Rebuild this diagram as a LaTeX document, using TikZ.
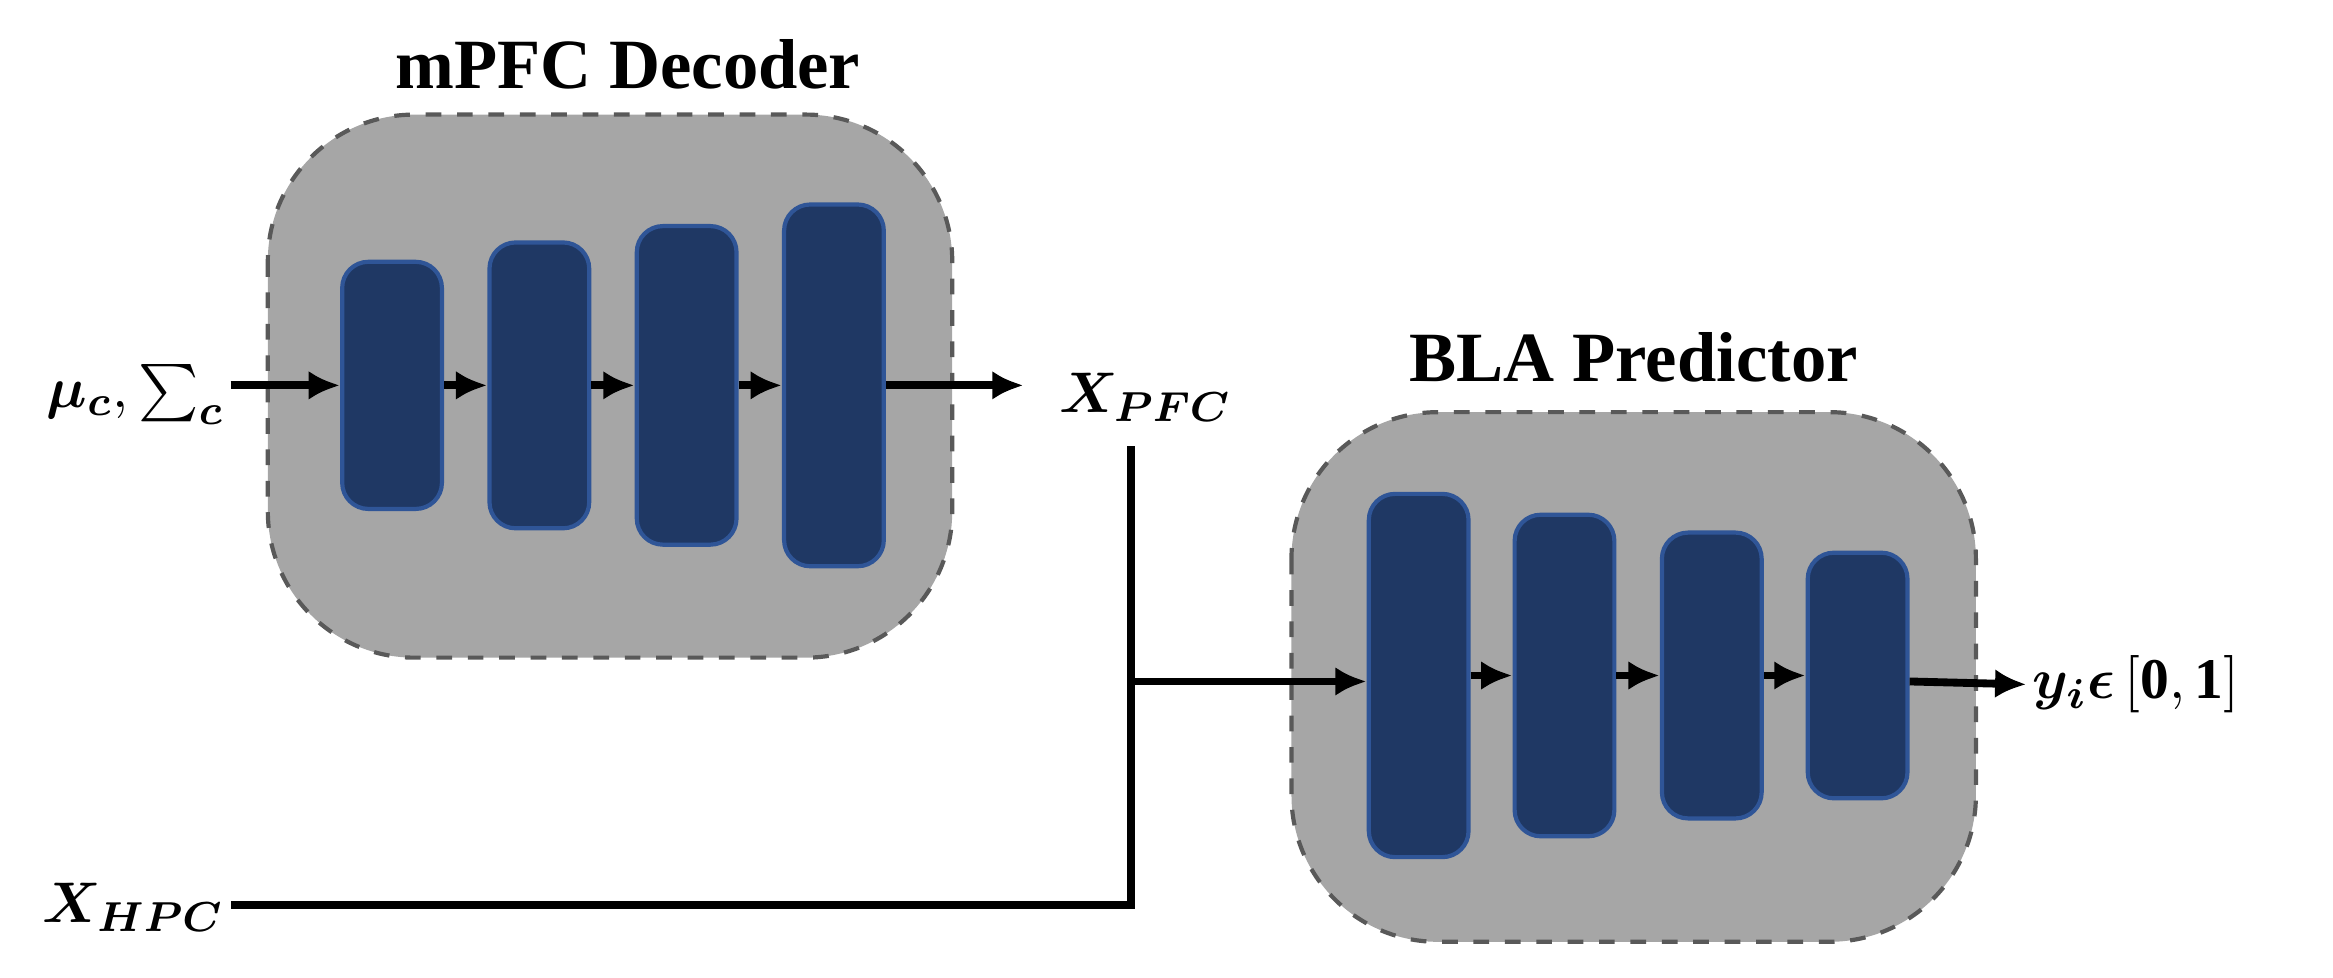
\documentclass[tikz,border=0pt]{standalone}
\usepackage{amsmath,bm}
\usepackage{fontspec}
\setmainfont{Liberation Serif}
\usetikzlibrary{arrows.meta}
\definecolor{boxgray}{HTML}{A6A6A6}
\definecolor{layerblue}{HTML}{1F3864}
\definecolor{layeredge}{HTML}{2F5597}
\tikzset{
  panel/.style={draw=gray!70!black, dashed, fill=boxgray, rounded corners=28pt, line width=0.8pt},
  layer/.style={draw=layeredge, fill=layerblue, rounded corners=5pt, minimum width=0.67cm, line width=0.8pt, inner sep=0pt},
  flow/.style={-{Latex[length=6pt,width=5.5pt]}, line width=1.5pt},
  title/.style={font=\bfseries\fontsize{13.5}{16}\selectfont},
  lab/.style={font=\fontsize{11}{13}\selectfont}
}
\begin{document}
\begin{tikzpicture}[x=0.01cm, y=-0.01cm]
  \useasboundingbox (0,0) rectangle (1568,657);

  % decoder
  \draw[panel] (180,77) rectangle (640,442);
  \node[title] (dectitle) at (422,43) {mPFC Decoder};
  \node[layer, minimum height=1.66cm] (d1) at (263.5,259) {};
  \node[layer, minimum height=1.92cm] (d2) at (362.5,259) {};
  \node[layer, minimum height=2.14cm] (d3) at (461.5,259) {};
  \node[layer, minimum height=2.43cm] (d4) at (560.5,259) {};

  % predictor
  \draw[panel] (868,277) rectangle (1328,633);
  \node[title] (predtitle) at (1098,240) {BLA Predictor};
  \node[layer, minimum height=2.44cm] (p1) at (953.5,454) {};
  \node[layer, minimum height=2.16cm] (p2) at (1051.5,454) {};
  \node[layer, minimum height=1.92cm] (p3) at (1150.5,454) {};
  \node[layer, minimum height=1.65cm] (p4) at (1248.5,454) {};

  % labels
  \node[lab, anchor=east, inner sep=1pt] (mu) at (155,265) {$\bm{\mu_c},\textstyle\sum_{\bm c}$};
  \node[lab] (xpfc) at (770,267) {$\bm{X_{PFC}}$};
  \node[lab, anchor=east, inner sep=1pt] (xhpc) at (155,610) {$\bm{X_{HPC}}$};
  \node[lab, anchor=west, inner sep=1pt] (y) at (1362,460) {$\bm{y_i\epsilon}\,[\mathbf{0},\mathbf{1}]$};
  \coordinate (top) at (760,300);
  \coordinate (join) at (760,458);
  \coordinate (dout) at (688,259);

  % connectors
  \draw[flow] (mu.east |- d1) -- (d1.west);
  \foreach \a/\b in {d1/d2,d2/d3,d3/d4,p1/p2,p2/p3,p3/p4}
    \draw[flow] (\a.east) -- (\b.west);
  \draw[flow] (d4.east) -- (dout);
  \draw[line width=1.5pt] (top) -- (760,608) -- (xhpc.east |- 0,608);
  \draw[flow] (join) -- (p1.west |- join);
  \draw[flow] (p4.east |- join) -- (y.west);
\end{tikzpicture}
\end{document}
